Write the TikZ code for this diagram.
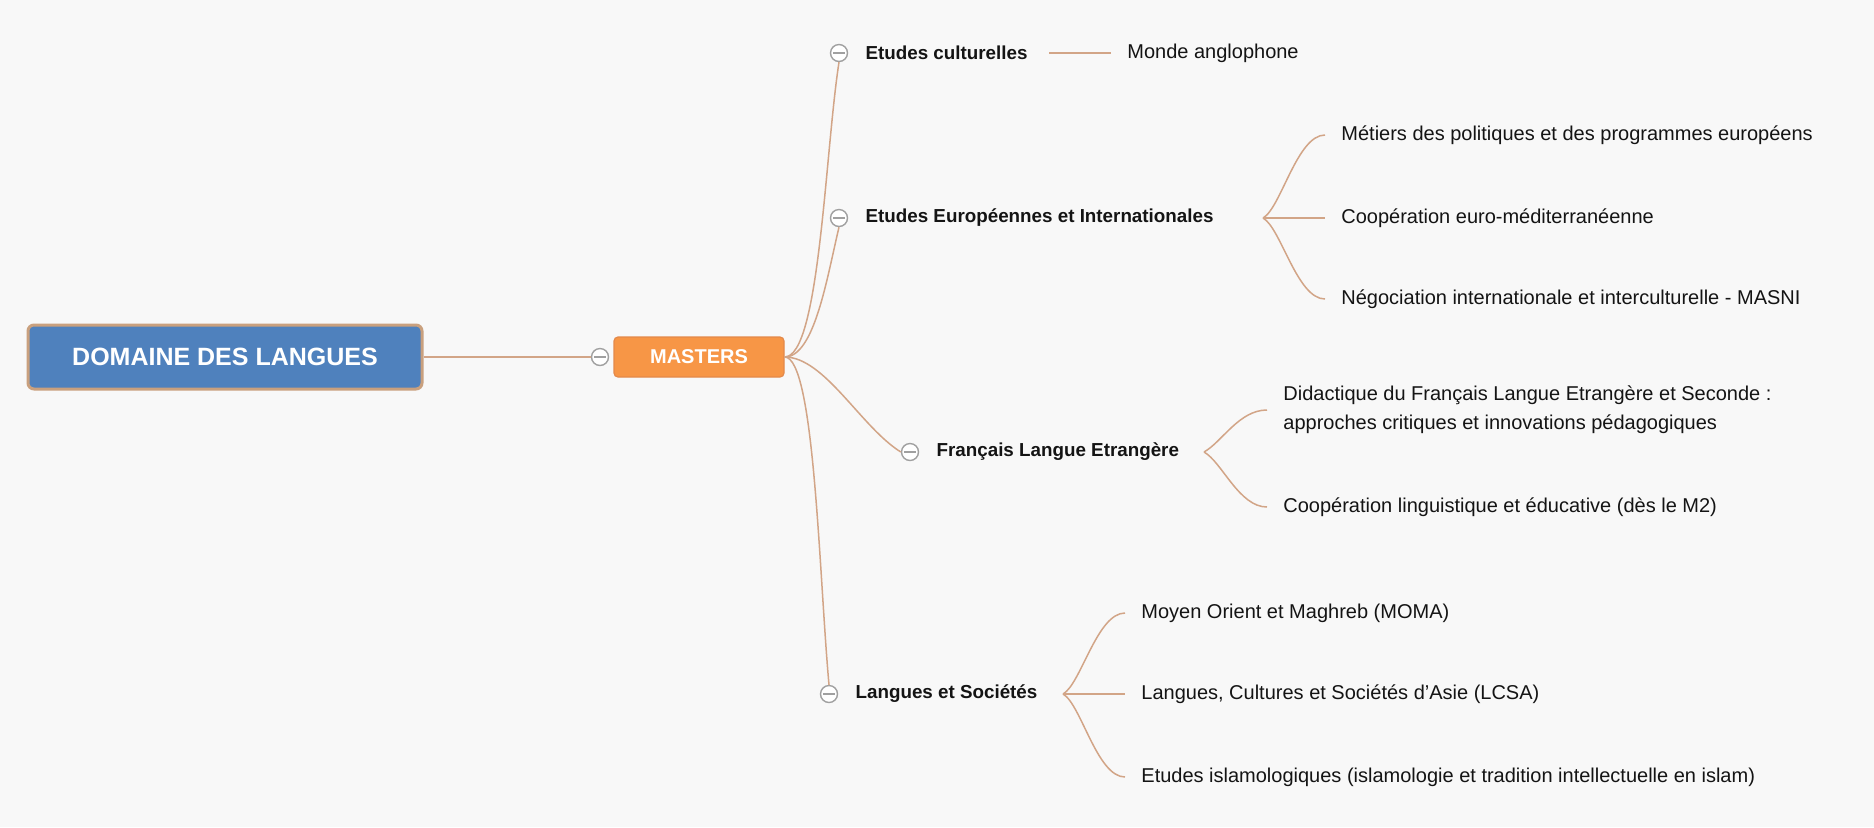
\documentclass[tikz,border=0pt]{standalone}
\usepackage{fontspec}
\setmainfont{Liberation Sans}
\usepackage{xcolor}
\usepackage{tikz}
\usetikzlibrary{positioning}
\definecolor{bgc}{HTML}{F8F8F8}
\definecolor{rootc}{HTML}{4F81BD}
\definecolor{rootb}{HTML}{C9A07E}
\definecolor{hubc}{HTML}{F79646}
\definecolor{hubb}{HTML}{E4894A}
\definecolor{linkc}{HTML}{D2A587}
\definecolor{knobc}{HTML}{A0A0A0}
\definecolor{txtc}{HTML}{141414}
\tikzset{
  lnk/.style={linkc,line width=0.75pt},
  root/.style={draw=rootb,line width=1.5pt,rounded corners=3pt,fill=rootc,text=white,font=\fontsize{12.5}{15}\selectfont\bfseries,minimum width=197pt,minimum height=32pt,inner sep=0pt},
  hub/.style={draw=hubb,line width=0.6pt,rounded corners=2pt,fill=hubc,text=white,font=\fontsize{10}{12}\selectfont\bfseries,minimum width=85pt,minimum height=20pt,inner sep=0pt},
  knob/.style={circle,draw=knobc,fill=white,line width=0.7pt,minimum size=8.5pt,inner sep=0pt,
    path picture={\draw[knobc,line width=0.7pt] ([xshift=-2.8pt]path picture bounding box.center)--([xshift=2.8pt]path picture bounding box.center);}},
  branch/.style={inner sep=0pt,text=txtc,font=\fontsize{9.4}{11}\selectfont\bfseries},
  leaf/.style={anchor=west,inner xsep=8pt,inner ysep=0pt,text=txtc,font=\fontsize{10}{14.5}\selectfont,align=left}
}
\begin{document}
\begin{tikzpicture}[x=0.5pt,y=-0.5pt]
\fill[bgc] (0,0) rectangle (1874,827);
% root and hub
\node[root] (dom) at (225,357) {DOMAINE DES LANGUES};
\node[knob] (k0) at (600,357) {};
\node[hub] (ms) at (699,357) {MASTERS};
\draw[lnk] (dom.east) -- (k0.west);
% masters
\node[knob] (k1) at (839,53) {};  \node[branch,right=8.5pt of k1] (b1) {Etudes culturelles};
\node[knob] (k2) at (839,218) {}; \node[branch,right=8.5pt of k2] (b2) {Etudes Européennes et Internationales};
\node[knob] (k3) at (910,452) {}; \node[branch,right=8.5pt of k3] (b3) {Français Langue Etrangère};
\node[knob] (k4) at (829,694) {}; \node[branch,right=8.5pt of k4] (b4) {Langues et Sociétés};
\draw[lnk] (ms.east) .. controls +(35,0) and +(-14,90) .. (k1.south);
\draw[lnk] (ms.east) .. controls +(30,0) and +(-12,50) .. (k2.south);
\draw[lnk] (ms.east) .. controls +(40,0) and +(-40,-25) .. (k3.west);
\draw[lnk] (ms.east) .. controls +(30,0) and +(-10,-110) .. (k4.north);
% forks
\coordinate (f1) at (1049,53);
\coordinate (f2) at (1263,218);
\coordinate (f3) at (1204,452);
\coordinate (f4) at (1063,694);
\node[leaf] (l1) at (1111,53) {Monde anglophone};
\node[leaf] (l21) at (1325,135) {Métiers des politiques et des programmes européens};
\node[leaf] (l22) at (1325,218) {Coopération euro-méditerranéenne};
\node[leaf] (l23) at (1325,299) {Négociation internationale et interculturelle - MASNI};
\node[leaf] (l31) at (1267,410) {Didactique du Français Langue Etrangère et Seconde :\\approches critiques et innovations pédagogiques};
\node[leaf] (l32) at (1267,507) {Coopération linguistique et éducative (dès le M2)};
\node[leaf] (l41) at (1125,613) {Moyen Orient et Maghreb (MOMA)};
\node[leaf] (l42) at (1125,694) {Langues, Cultures et Sociétés d'Asie (LCSA)};
\node[leaf] (l43) at (1125,777) {Etudes islamologiques (islamologie et tradition intellectuelle en islam)};
\draw[lnk] (f1) -- (l1.west);
\draw[lnk] (f2) -- (l22.west); \draw[lnk] (f4) -- (l42.west);
\foreach \f/\l/\s in {f2/l21/-1,f2/l23/1,f3/l31/-1,f3/l32/1,f4/l41/-1,f4/l43/1}
  \draw[lnk] (\f) .. controls +(18,10*\s) and +(-28,0) .. (\l.west);
\end{tikzpicture}
\end{document}
